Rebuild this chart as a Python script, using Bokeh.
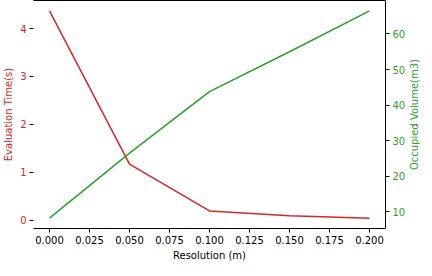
from bokeh.plotting import figure
from bokeh.models import LinearAxis, Range1d, FixedTicker, Div
from bokeh.layouts import row
from bokeh.embed import file_html
from bokeh.resources import INLINE

resolution = [0.0, 0.05, 0.10, 0.15, 0.20]
eval_time = [4.37, 1.17, 0.19, 0.09, 0.04]
occupied_volume = [8.2, 26.5, 43.8, 55.0, 66.5]

x_ticks = [0.0, 0.025, 0.05, 0.075, 0.1, 0.125, 0.15, 0.175, 0.2]
left_ticks = [0, 1, 2, 3, 4]
right_ticks = [10, 20, 30, 40, 50, 60]

RED = "#d62728"
GREEN = "#2ca02c"
FONT = "DejaVu Sans"
FS = "10px"
FRAME_W, FRAME_H = 352, 228

def pad(vals, frac=0.05):
    lo, hi = min(vals), max(vals)
    m = (hi - lo) * frac
    return lo - m, hi + m

x0, x1 = pad(resolution)
l0, l1 = pad(eval_time)
r0, r1 = pad(occupied_volume)

p = figure(frame_width=FRAME_W, frame_height=FRAME_H, output_backend="svg", toolbar_location=None,
           x_range=Range1d(x0, x1), y_range=Range1d(l0, l1),
           min_border_left=0, min_border_right=0, min_border_top=0, min_border_bottom=0)
p.extra_y_ranges = {"right": Range1d(r0, r1)}
p.grid.visible = False
p.outline_line_color = None
p.background_fill_color = "white"

p.line(resolution, eval_time, line_color=RED, line_width=1.5)
p.line(resolution, occupied_volume, line_color=GREEN, line_width=1.5, y_range_name="right")

def style(ax, color, label_color):
    ax.major_label_text_font = FONT
    ax.major_label_text_font_size = FS
    ax.major_label_text_color = color
    ax.axis_label_text_font = FONT
    ax.axis_label_text_font_size = FS
    ax.axis_label_text_font_style = "normal"
    ax.axis_label_text_color = label_color
    ax.major_tick_in = 0
    ax.major_tick_out = 4
    ax.major_tick_line_color = "black"
    ax.minor_tick_line_color = None
    ax.axis_line_color = "black"
    ax.major_label_standoff = 3
    ax.axis_label_standoff = 3

xa = p.xaxis[0]
style(xa, "black", "black")
xa.axis_label = "Resolution (m)"
xa.ticker = FixedTicker(ticks=x_ticks)
xa.major_label_overrides = {t: f"{t:.3f}" for t in x_ticks}

ya = p.yaxis[0]
style(ya, RED, RED)
ya.axis_label = "Evaluation Time(s)"
ya.ticker = FixedTicker(ticks=left_ticks)
ya.axis_line_color = None

ra = LinearAxis(y_range_name="right")
style(ra, GREEN, GREEN)
ra.ticker = FixedTicker(ticks=right_ticks)
p.add_layout(ra, "right")

ta = LinearAxis(ticker=FixedTicker(ticks=[]), major_tick_line_color=None,
                minor_tick_line_color=None, axis_line_color="black",
                major_label_standoff=0, axis_label=None)
p.add_layout(ta, "above")

label_html = (
    f'<div style="height:{FRAME_H + 2}px;width:14px;display:flex;align-items:center;'
    f'justify-content:center;">'
    f'<span style="writing-mode:vertical-rl;transform:rotate(180deg);white-space:nowrap;'
    f'font-family:\'{FONT}\';font-size:{FS};color:{GREEN};line-height:14px;">'
    f'Occupied Volume(m3)</span></div>'
)
right_label = Div(text=label_html, width=14, height=FRAME_H + 2, margin=(0, 0, 0, 0))

layout = row(p, right_label, spacing=0)

open("out.html", "w").write(file_html(layout, INLINE))
